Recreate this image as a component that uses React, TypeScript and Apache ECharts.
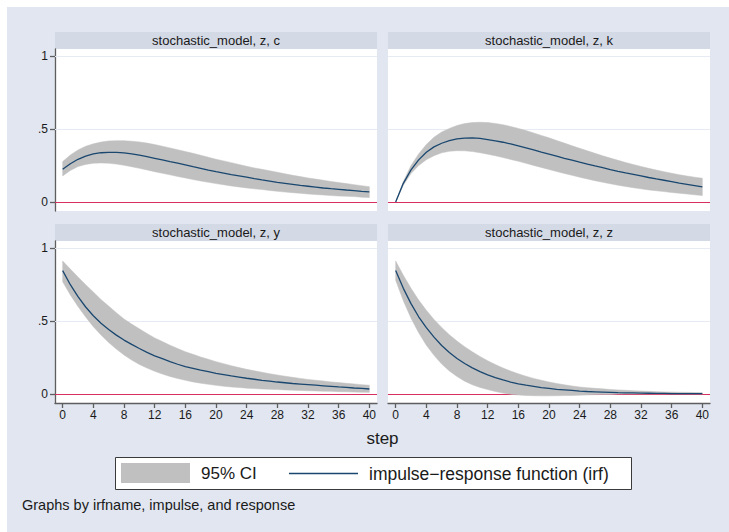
import React, { useEffect, useRef } from "react";
import * as echarts from "echarts";

// ---- data ----
const steps = [0,1,2,3,4,5,6,7,8,9,10,11,12,13,14,15,16,17,18,19,20,21,22,23,24,25,26,27,28,29,30,31,32,33,34,35,36,37,38,39,40];
const xTickValues = [0,4,8,12,16,20,24,28,32,36,40];
const yTickValues = [0, 0.5, 1];
const yTickLabels = ["0", ".5", "1"];
const panelTitles = ["stochastic_model, z, c", "stochastic_model, z, k", "stochastic_model, z, y", "stochastic_model, z, z"];
const legendLabels = ["95% CI", "impulse\u2212response function (irf)"];
const xAxisTitle = "step";
const noteText = "Graphs by irfname, impulse, and response";

const cIrf = [.224,.262,.293,.315,.330,.338,.341,.341,.337,.330,.321,.311,.300,.289,.277,.266,.254,.242,.231,.219,.208,.198,.188,.179,.170,.160,.151,.143,.135,.128,.121,.114,.108,.102,.096,.091,.087,.082,.078,.073,.069];
const cHi = [.277,.322,.357,.382,.399,.411,.419,.421,.421,.417,.412,.404,.394,.383,.371,.359,.346,.334,.321,.307,.293,.282,.270,.257,.245,.234,.224,.214,.204,.193,.183,.174,.165,.157,.149,.141,.133,.126,.119,.112,.105];
const cLo = [.179,.216,.243,.258,.266,.268,.266,.260,.252,.242,.231,.220,.208,.197,.186,.175,.165,.154,.144,.135,.126,.118,.110,.103,.096,.090,.085,.079,.073,.068,.064,.059,.055,.051,.048,.044,.041,.039,.037,.033,.030];

const kIrf = [0,.128,.220,.289,.341,.378,.403,.421,.433,.438,.440,.436,.428,.420,.410,.398,.385,.371,.357,.342,.328,.314,.300,.287,.273,.260,.247,.235,.222,.210,.199,.189,.179,.168,.158,.149,.140,.130,.121,.112,.103];
const kHi = [0,.14,.25,.33,.395,.445,.48,.505,.525,.538,.545,.547,.545,.539,.53,.518,.505,.49,.474,.457,.44,.422,.404,.386,.368,.351,.334,.317,.301,.286,.271,.257,.244,.231,.219,.208,.197,.187,.178,.17,.163];
const kLo = [0,.115,.195,.25,.29,.318,.337,.348,.352,.351,.346,.338,.328,.317,.305,.292,.279,.265,.251,.237,.223,.209,.196,.183,.17,.158,.146,.135,.125,.115,.106,.098,.09,.083,.077,.071,.065,.06,.055,.049,.044];

const yIrf = [.847,.75,.668,.597,.537,.486,.442,.404,.37,.34,.312,.285,.262,.242,.222,.204,.188,.176,.164,.153,.142,.133,.124,.116,.108,.101,.094,.088,.082,.077,.072,.068,.064,.06,.056,.052,.048,.045,.041,.038,.034];
const yHi = [.913,.857,.803,.75,.70,.648,.603,.558,.515,.48,.447,.415,.385,.36,.335,.312,.29,.272,.254,.238,.222,.208,.194,.181,.169,.159,.149,.139,.13,.122,.114,.107,.1,.094,.089,.083,.078,.073,.069,.064,.06];
const yLo = [.77,.68,.6,.528,.462,.405,.353,.308,.268,.233,.203,.178,.156,.137,.12,.106,.094,.083,.074,.066,.059,.053,.048,.044,.04,.037,.034,.032,.03,.028,.026,.024,.022,.021,.019,.018,.016,.015,.013,.012,.011];

const zIrf = [.847,.725,.62,.53,.455,.39,.333,.285,.244,.209,.179,.153,.131,.112,.096,.082,.07,.06,.052,.044,.038,.032,.028,.024,.02,.017,.015,.013,.011,.009,.008,.007,.006,.005,.004,.004,.003,.003,.002,.002,.002];
const zHi = [.913,.815,.725,.645,.575,.512,.457,.407,.363,.324,.289,.257,.228,.202,.178,.157,.138,.122,.107,.094,.082,.072,.063,.055,.048,.043,.039,.035,.031,.028,.025,.022,.02,.018,.016,.014,.013,.012,.011,.01,.009];
const zLo = [.78,.64,.52,.42,.335,.265,.205,.158,.12,.088,.063,.045,.03,.017,.006,-.002,-.007,-.01,-.012,-.013,-.013,-.012,-.011,-.01,-.008,-.007,-.005,-.004,-.003,-.001,0,0,0,0,0,0,0,0,0,0,0];

const panelIrf = [cIrf, kIrf, yIrf, zIrf];
const panelHi = [cHi, kHi, yHi, zHi];
const panelLo = [cLo, kLo, yLo, zLo];

// ---- styling / layout ----
const FONT = "'Liberation Sans', Arial, Helvetica, sans-serif";
const COL_LEFT = [55, 388];
const ROW_TOP = [49, 241];
const PW = 322;
const PH = 162;
const STRIP_H = 17;
const BAND = "#c0c0c0";
const IRF_COLOR = "#1a476f";
const ZERO_COLOR = "#d6305f";
const GRID_COLOR = "#e6eaf2";
const AXIS_COLOR = "#5e5e5e";
const STRIP_COLOR = "#d3d9e5";

function buildOption() {
  const grid: any[] = [];
  const xAxis: any[] = [];
  const yAxis: any[] = [];
  const series: any[] = [];
  const graphic: any[] = [];

  for (let i = 0; i < 4; i++) {
    const row = Math.floor(i / 2);
    const col = i % 2;
    const left = COL_LEFT[col];
    const top = ROW_TOP[row];
    grid.push({
      left, top, width: PW, height: PH,
      show: true, backgroundColor: "#ffffff", borderWidth: 0,
    });
    xAxis.push({
      type: "value", gridIndex: i, min: -1, max: 41,
      show: row === 1,
      position: "bottom",
      axisLine: { show: true, onZero: false, lineStyle: { color: AXIS_COLOR, width: 1.3 } },
      axisTick: { show: true, length: 5, customValues: xTickValues, lineStyle: { color: AXIS_COLOR, width: 1.3 } },
      axisLabel: { show: true, customValues: xTickValues, margin: 6, fontSize: 12, color: "#1a1a1a", fontFamily: FONT },
      splitLine: { show: false },
    });
    yAxis.push({
      type: "value", gridIndex: i, min: -0.062, max: 1.05,
      show: col === 0,
      position: "left",
      axisLine: { show: true, onZero: false, lineStyle: { color: AXIS_COLOR, width: 1.3 } },
      axisTick: { show: true, length: 5, customValues: yTickValues, lineStyle: { color: AXIS_COLOR, width: 1.3 } },
      axisLabel: {
        show: true, customValues: yTickValues, margin: 7, fontSize: 12, color: "#1a1a1a", fontFamily: FONT,
        formatter: (v: number) => yTickLabels[yTickValues.indexOf(v)] ?? String(v),
      },
      splitLine: { show: false },
    });

    const lo = panelLo[i];
    const hi = panelHi[i];
    const irf = panelIrf[i];

    // reference lines (gridlines at .5 and 1, zero line)
    series.push({
      type: "line", xAxisIndex: i, yAxisIndex: i,
      data: steps.map((s, j) => [s, lo[j]]),
      symbol: "none", silent: true, z: 3,
      lineStyle: { opacity: 0, width: 0 },
      markLine: {
        silent: true, symbol: "none", z: 4,
        label: { show: false },
        data: [
          { yAxis: 0.5, lineStyle: { color: GRID_COLOR, width: 1, type: "solid" } },
          { yAxis: 1, lineStyle: { color: GRID_COLOR, width: 1, type: "solid" } },
          { yAxis: 0, lineStyle: { color: ZERO_COLOR, width: 1.2, type: "solid" } },
        ],
      },
    });
    // confidence band as one polygon
    series.push({
      type: "custom", xAxisIndex: i, yAxisIndex: i,
      data: steps.map((s, j) => [s, lo[j], hi[j]]),
      encode: { x: 0, y: [1, 2] },
      silent: true, z: 6, clip: true,
      renderItem: (params: any, api: any) => {
        if (params.dataIndex !== 0) return null;
        const pts: number[][] = [];
        for (let j = 0; j < steps.length; j++) pts.push(api.coord([steps[j], hi[j]]));
        for (let j = steps.length - 1; j >= 0; j--) pts.push(api.coord([steps[j], lo[j]]));
        return { type: "polygon", shape: { points: pts }, style: { fill: BAND, stroke: BAND, lineWidth: 0.5 } };
      },
    });
    series.push({
      type: "line", xAxisIndex: i, yAxisIndex: i,
      data: steps.map((s, j) => [s, irf[j]]),
      symbol: "none", silent: true, z: 7,
      lineStyle: { color: IRF_COLOR, width: 1.3 },
    });

    graphic.push({
      type: "rect",
      shape: { x: left, y: top - STRIP_H, width: PW, height: STRIP_H },
      style: { fill: STRIP_COLOR },
      silent: true,
    });
    graphic.push({
      type: "text",
      x: left + PW / 2, y: top - STRIP_H / 2,
      style: { text: panelTitles[i], fontSize: 13, fill: "#1a1a1a", align: "center", verticalAlign: "middle", fontFamily: FONT },
      silent: true,
    });
  }

  graphic.push({
    type: "text", x: 382.5, y: 438,
    style: { text: xAxisTitle, fontSize: 17, fill: "#1a1a1a", align: "center", verticalAlign: "middle", fontFamily: FONT },
  });
  graphic.push({
    type: "rect",
    shape: { x: 115.5, y: 457.5, width: 516, height: 32 },
    style: { fill: "#ffffff", stroke: "#3a3a3a", lineWidth: 1 },
  });
  graphic.push({
    type: "rect",
    shape: { x: 121, y: 463, width: 69, height: 20 },
    style: { fill: BAND },
  });
  graphic.push({
    type: "text", x: 201, y: 473.5,
    style: { text: legendLabels[0], fontSize: 17, fill: "#1a1a1a", align: "left", verticalAlign: "middle", fontFamily: FONT },
  });
  graphic.push({
    type: "line",
    shape: { x1: 289, y1: 473.5, x2: 358, y2: 473.5 },
    style: { stroke: IRF_COLOR, lineWidth: 1.3 },
  });
  graphic.push({
    type: "text", x: 369, y: 473.5,
    style: { text: legendLabels[1], fontSize: 17.5, fill: "#1a1a1a", align: "left", verticalAlign: "middle", fontFamily: FONT },
  });
  graphic.push({
    type: "text", x: 22, y: 505,
    style: { text: noteText, fontSize: 14.5, fill: "#1a1a1a", align: "left", verticalAlign: "middle", fontFamily: FONT },
  });

  return {
    animation: false,
    backgroundColor: "transparent",
    grid, xAxis, yAxis, series, graphic,
  };
}

export default function App() {
  const ref = useRef<HTMLDivElement>(null);
  useEffect(() => {
    if (!ref.current) return;
    const chart = echarts.init(ref.current, undefined, { renderer: "svg" });
    chart.setOption(buildOption());
    return () => chart.dispose();
  }, []);
  return (
    <div
      ref={ref}
      style={{
        position: "fixed", left: 0, top: 0, width: 729, height: 532,
        background: "linear-gradient(#e1e6f0, #e1e6f0) 7px 7px / 722px 525px no-repeat, #ffffff",
      }}
    />
  );
}
